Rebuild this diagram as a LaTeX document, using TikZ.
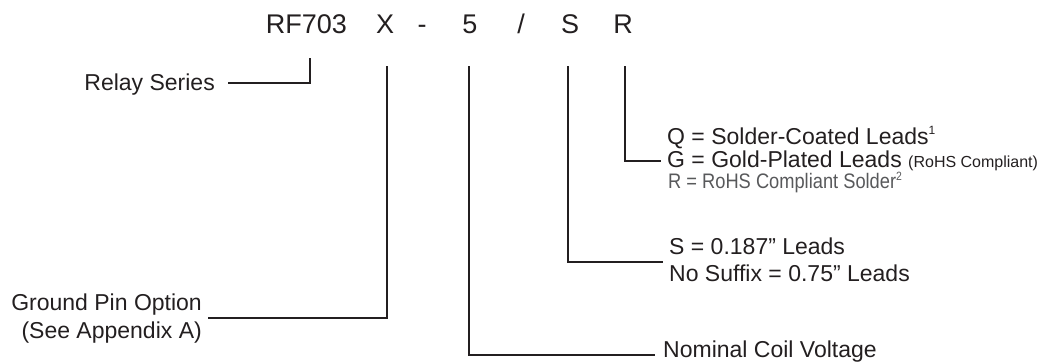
\documentclass[tikz,border=0pt]{standalone}
\usepackage{fontspec}
\setmainfont{Liberation Sans}
\newfontfamily\narrowfont[FakeStretch=0.87]{Liberation Sans}
\definecolor{ink}{HTML}{231F20}
\definecolor{greyink}{HTML}{58595B}
\begin{document}
\begin{tikzpicture}[x=1pt,y=-1pt,
  lead/.style={draw=ink, line width=2.8pt, line join=miter},
  lbl/.style={inner sep=0pt, font=\fontsize{23}{23}\selectfont, text=ink},
  small/.style={inner sep=0pt, font=\fontsize{16}{16}\selectfont, text=ink},
  hdr/.style={inner sep=0pt, anchor=base, font=\fontsize{27}{27}\selectfont, text=ink},
  note/.style={inner sep=0pt, font=\narrowfont\fontsize{21}{21}\selectfont, text=greyink}]
\useasboundingbox (0,0) rectangle (1055,362);
% header
\node[hdr] (rf) at (306.5,33) {RF703};
\node[hdr] (hx) at (385,33) {X};
\node[hdr] (hd) at (422,33) {-};
\node[hdr] (h5) at (470,33) {5};
\node[hdr] (hs) at (521,33) {/};
\node[hdr] (hS) at (570,33) {S};
\node[hdr] (hR) at (623,33) {R};
% labels
\node[lbl, anchor=base east] (relay) at (215,90) {Relay Series};
\node[lbl, anchor=base east] (ground) at (202,310) {Ground Pin Option};
\node[lbl, anchor=base east] (append) at (202,338) {(See Appendix A)};
\node[lbl, anchor=base west] (nominal) at (663,357) {Nominal Coil Voltage};
\node[lbl, anchor=base west] (slead) at (669,254) {S = 0.187” Leads};
\node[lbl, anchor=base west] (nosuf) at (669,281) {No Suffix = 0.75” Leads};
\node[lbl, anchor=base west] (qlead) at (667,144) {Q = Solder-Coated Leads\textsuperscript{\fontsize{12}{12}\selectfont 1}};
\node[lbl, anchor=base west] (glead) at (667,167) {G = Gold-Plated Leads};
\node[small, anchor=base west] (rohs) at ([xshift=6pt]glead.base east) {(RoHS Compliant)};
\node[note, anchor=base west] (rlead) at (668,188) {R = RoHS Compliant Solder\textsuperscript{\fontsize{12}{12}\selectfont 2}};
% connector end points
\coordinate (rfT) at (310,58);
\coordinate (relayE) at (228,83);
\coordinate (xT) at (387,66);
\coordinate (groundE) at (208,318);
\coordinate (fT) at (469,66);
\coordinate (nomE) at (655,355);
\coordinate (sT) at (568,66);
\coordinate (sE) at (663,262);
\coordinate (rT) at (625,66);
\coordinate (rE) at (661,161);
% connectors
\draw[lead] (rfT) |- (relayE);
\draw[lead] (xT) |- (groundE);
\draw[lead] (fT) |- (nomE);
\draw[lead] (sT) |- (sE);
\draw[lead] (rT) |- (rE);
\end{tikzpicture}
\end{document}
